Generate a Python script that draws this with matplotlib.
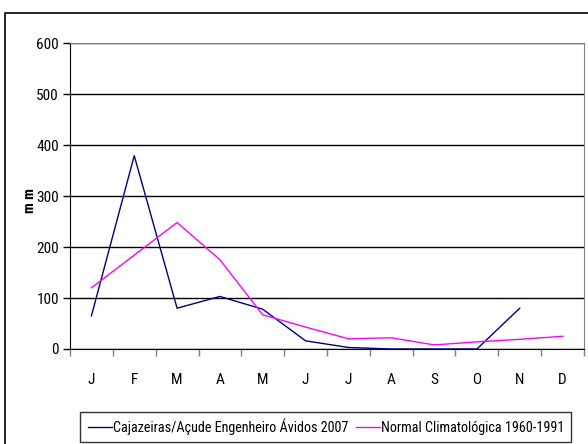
import matplotlib
matplotlib.use("Agg")
import matplotlib.pyplot as plt
from matplotlib.patches import Rectangle
from matplotlib import font_manager
import numpy as np

months = ["J", "F", "M", "A", "M", "J", "J", "A", "S", "O", "N", "D"]
cajazeiras_2007 = [65, 379, 80, 103, 78, 16, 3, 0, 0, 0, 80]
normal_1960_1991 = [120, 184, 248, 175, 67, 43, 20, 22, 8, 14, 19, 25]
yticks = [0, 100, 200, 300, 400, 500, 600]

names = {f.name for f in font_manager.fontManager.ttflist}
fam = [n for n in ['Liberation Sans Narrow', 'Roboto Condensed', 'Open Sans Condensed',
                   'Liberation Sans'] if n in names] + ['DejaVu Sans']
plt.rcParams['font.family'] = fam
narrow = fam[0] != 'Liberation Sans'
fs = 11 if narrow else 9.5
lfs = 10.2 if narrow else 8.8

fig = plt.figure(figsize=(5.88, 4.44), dpi=100)
W, H = 588, 444
ax = fig.add_axes([70 / W, 1 - 349 / H, (584 - 70) / W, (349 - 43) / H])

x_caj = np.arange(len(cajazeiras_2007)) + 0.5
x_norm = np.arange(len(normal_1960_1991)) + 0.5
l1, = ax.plot(x_caj, cajazeiras_2007, color='#000080', lw=1.0,
              label='Cajazeiras/Açude Engenheiro Ávidos 2007')
l2, = ax.plot(x_norm, normal_1960_1991, color='#FF00FF', lw=1.0,
              label='Normal Climatológica 1960-1991')

ax.set_xlim(0, 12)
ax.set_ylim(0, 600)
ax.set_yticks(yticks)
ax.set_yticklabels([str(v) for v in yticks], fontsize=fs)
ax.set_xticks(np.arange(0, 13))
ax.set_xticklabels([])
ax.set_xticks(np.arange(12) + 0.5, minor=True)
ax.set_xticklabels(months, minor=True, fontsize=fs)
ax.tick_params(axis='x', which='major', direction='out', length=5, width=1, color='#808080')
ax.tick_params(axis='x', which='minor', length=0, pad=17)
ax.tick_params(axis='y', direction='out', length=5, width=1, pad=3)
ax.grid(axis='y', color='black', lw=1.0)
ax.set_axisbelow(True)
for s in ['top', 'right']:
    ax.spines[s].set_color('#808080')
ax.spines['left'].set_color('black')
ax.spines['bottom'].set_color('black')

fig.text(30 / W, 1 - 201 / H, 'm m', rotation=90, fontsize=10.5, fontweight='bold',
         ha='center', va='center')

# outer chart frame
fig.patches.append(Rectangle((5 / W, -0.1), 1.2, 1 - 13 / H + 0.1,
                             transform=fig.transFigure, fill=False,
                             edgecolor='black', lw=1.2))

leg = fig.legend(handles=[l1, l2], loc='center',
                 bbox_to_anchor=(326 / W, 1 - 427 / H), ncol=2, frameon=True,
                 fancybox=False, edgecolor='black', fontsize=lfs,
                 handlelength=1.7, handletextpad=0.1, columnspacing=0.5,
                 borderpad=0.5, borderaxespad=0)
leg.get_frame().set_linewidth(1.0)

fig.savefig('out.png', dpi=100)
